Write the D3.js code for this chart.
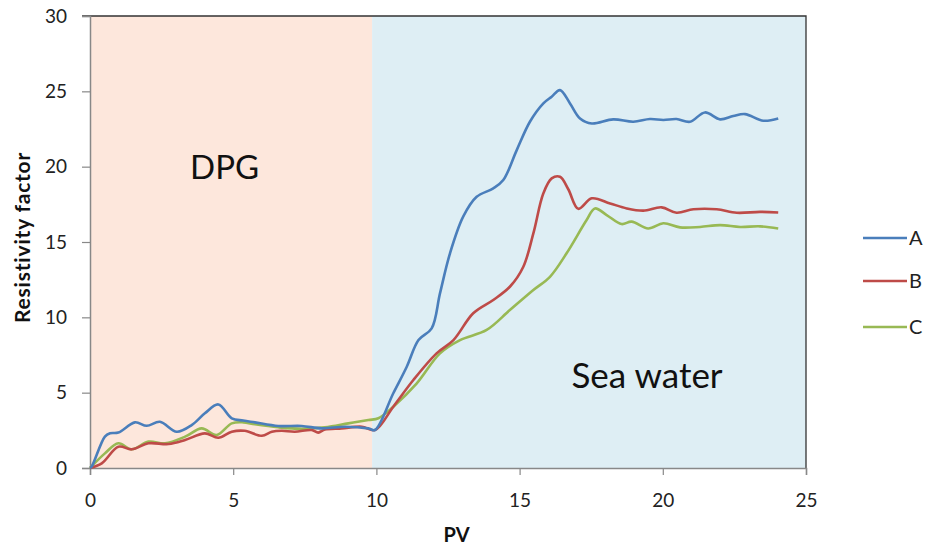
<!DOCTYPE html>
<html>
<head>
<meta charset="utf-8">
<script src="https://cdn.jsdelivr.net/npm/d3@7"></script>
<style>
body{margin:0;background:#fff;}
text{font-family:Lato,"Open Sans",sans-serif;}
</style>
</head>
<body>
<svg id="chart" width="929" height="549"></svg>
<script>
// data
var pvA = [0,0.06,0.52,0.7,0.99,1.57,1.98,2.44,3.03,3.55,4.01,4.48,4.95,5.35,5.76,6.58,7.39,8.09,8.9,9.72,9.95,10.59,11.06,11.47,11.93,12.22,12.57,13.03,13.5,14.08,14.43,14.9,15.36,15.83,16.12,16.41,16.76,17.11,17.52,18.27,18.97,19.55,20.02,20.48,20.95,21.47,22.0,22.46,22.87,23.51,24.03];
var valA = [0,0.1,2.08,2.3,2.35,3.03,2.8,3.07,2.41,2.85,3.63,4.22,3.3,3.15,3.03,2.79,2.79,2.63,2.74,2.63,2.52,4.96,6.72,8.49,9.27,11.59,14.25,16.68,18.0,18.56,19.11,21.1,22.98,24.2,24.64,25.08,24.2,23.2,22.87,23.14,22.98,23.16,23.1,23.16,22.98,23.6,23.14,23.36,23.49,23.05,23.2];

var pvB = [0,0.41,0.99,1.46,2.04,2.74,3.32,4.01,4.48,4.95,5.4,6.0,6.35,6.69,7.15,7.74,7.97,8.2,8.79,9.49,9.95,10.59,11.29,12.1,12.69,13.38,14.08,14.66,15.13,15.48,15.83,16.12,16.41,16.7,17.05,17.52,18.16,18.74,19.32,19.96,20.48,21.07,21.88,22.58,23.39,24.03];
var valB = [0,0.31,1.41,1.24,1.64,1.59,1.86,2.3,2.01,2.41,2.47,2.14,2.41,2.47,2.41,2.52,2.35,2.55,2.63,2.74,2.52,4.07,5.84,7.61,8.49,10.27,11.15,12.03,13.36,15.57,18.23,19.22,19.33,18.5,17.2,17.9,17.56,17.23,17.08,17.3,16.94,17.17,17.17,16.94,17.0,16.96];

var pvC = [0,0.52,0.99,1.46,2.04,2.62,3.32,3.9,4.42,4.95,5.35,5.76,6.58,7.39,8.2,9.02,9.72,10.07,10.59,11.41,12.22,12.92,13.85,14.66,15.48,16.06,16.64,17.34,17.63,18.04,18.56,18.91,19.49,20.02,20.6,21.3,22.0,22.7,23.39,24.03];
var valC = [0,0.97,1.64,1.24,1.75,1.64,2.08,2.63,2.19,2.96,3.03,2.9,2.7,2.6,2.7,2.96,3.18,3.3,4.07,5.62,7.61,8.49,9.16,10.48,11.81,12.69,14.25,16.46,17.23,16.79,16.19,16.35,15.9,16.24,15.97,16.0,16.12,16.0,16.04,15.9];

var seriesNames = ["A","B","C"];
var seriesColors = ["#4a7ebb","#be4b48","#98b954"];
var xTicks = [0,5,10,15,20,25];
var yTicks = [0,5,10,15,20,25,30];
var bands = [{from:0,to:9.85,fill:"#fde7dc",label:"DPG"},{from:9.85,to:25,fill:"#deeef4",label:"Sea water"}];

var svg = d3.select("#chart");
var x = d3.scaleLinear().domain([0,25]).range([90,806]);
var y = d3.scaleLinear().domain([0,30]).range([468,16]);

// background bands
svg.selectAll("rect.band").data(bands).enter().append("rect")
	.attr("class","band")
	.attr("x",function(d){return x(d.from);})
	.attr("y",y(30))
	.attr("width",function(d){return x(d.to)-x(d.from);})
	.attr("height",y(0)-y(30))
	.attr("fill",function(d){return d.fill;});

// band labels
svg.append("text").attr("x",x(4.7)).attr("y",y(19.2)).attr("text-anchor","middle")
	.attr("font-size",33).attr("fill","#111").text(bands[0].label);
svg.append("text").attr("x",x(19.45)).attr("y",y(5.3)).attr("text-anchor","middle")
	.attr("font-size",35).attr("fill","#111").text(bands[1].label);

// frame top/right
svg.append("path").attr("d",d3.line()([[x(0)-8,y(30)],[x(25),y(30)],[x(25),y(0)]]))
	.attr("stroke","#333").attr("stroke-width",1.3).attr("fill","none");

// axes
var xAxis = svg.append("g").attr("transform","translate(0,"+y(0)+")")
	.call(d3.axisBottom(x).tickValues(xTicks).tickSize(7).tickPadding(19));
var yAxis = svg.append("g").attr("transform","translate("+x(0)+",0)")
	.call(d3.axisLeft(y).tickValues(yTicks).tickSize(8).tickPadding(15));
[xAxis,yAxis].forEach(function(a){
	a.select(".domain").attr("stroke","#888").attr("stroke-width",1.5);
	a.selectAll(".tick line").attr("stroke","#888").attr("stroke-width",1.2);
	a.selectAll(".tick text").attr("font-size",19).attr("fill","#222")
		.style("font-family","Lato,'Open Sans',sans-serif");
});

// lines
var line = d3.line()
	.x(function(d){return x(d[0]);})
	.y(function(d){return y(d[1]);})
	.curve(d3.curveCatmullRom.alpha(0.5));
var seriesData = [d3.zip(pvA,valA), d3.zip(pvB,valB), d3.zip(pvC,valC)];
// draw C first, then B, then A on top
[2,1,0].forEach(function(i){
	svg.append("path")
		.attr("d",line(seriesData[i]))
		.attr("stroke",seriesColors[i])
		.attr("stroke-width",2.6)
		.attr("fill","none")
		.attr("stroke-linejoin","round");
});

// axis titles
svg.append("text").attr("x",x(12.8)).attr("y",542).attr("text-anchor","middle")
	.attr("font-size",20).attr("font-weight","bold").attr("fill","#111").text("PV");
svg.append("text").attr("transform","translate(30,"+y(15.3)+") rotate(-90)")
	.attr("text-anchor","middle").attr("font-size",21).attr("font-weight","bold")
	.attr("letter-spacing",0.8).attr("fill","#111").text("Resistivity factor");

// legend
var lg = svg.selectAll("g.leg").data(seriesNames).enter().append("g")
	.attr("class","leg")
	.attr("transform",function(d,i){return "translate(863,"+[238,281,327][i]+")";});
lg.append("line").attr("x1",0).attr("x2",44).attr("y1",0).attr("y2",0)
	.attr("stroke",function(d,i){return seriesColors[i];}).attr("stroke-width",2.6);
lg.append("text").attr("x",46).attr("y",7).attr("font-size",20).attr("fill","#222")
	.text(function(d){return d;});
</script>
</body>
</html>
